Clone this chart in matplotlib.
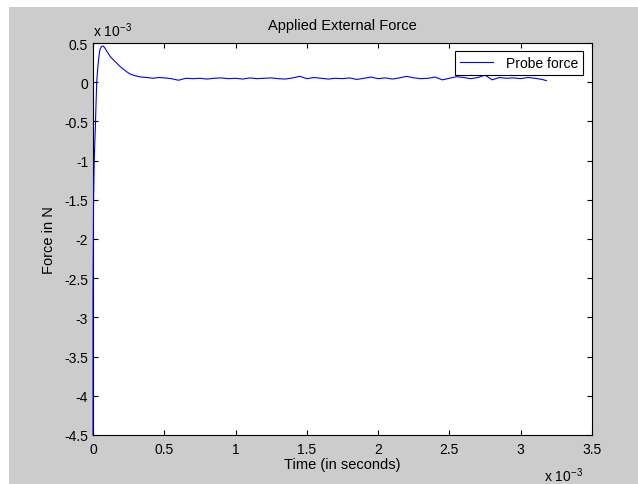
import matplotlib
matplotlib.use("Agg")
import matplotlib.pyplot as plt
from matplotlib.patches import Rectangle

plt.rcParams['font.family'] = ['Liberation Sans', 'DejaVu Sans']
plt.rcParams['font.size'] = 10
plt.rcParams['mathtext.fontset'] = 'custom'
plt.rcParams['mathtext.rm'] = 'Liberation Sans'
plt.rcParams['mathtext.default'] = 'regular'

# time in ms (axis scaled by 1e-3), force in mN (axis scaled by 1e-3)
t_start = [0.0, 0.0, 0.004, 0.008, 0.012, 0.016, 0.020, 0.026, 0.031, 0.037, 0.043,
           0.049, 0.058, 0.066, 0.072, 0.082, 0.095, 0.12, 0.14, 0.166, 0.19,
           0.21, 0.235, 0.26, 0.30, 0.34]
f_start = [-4.5, -2.7, -1.5, -1.05, -0.8, -0.6, -0.35, 0.0, 0.13, 0.25, 0.35,
           0.42, 0.45, 0.46, 0.46, 0.44, 0.40, 0.33, 0.29, 0.245, 0.2,
           0.17, 0.135, 0.105, 0.08, 0.065]

t_flat = [0.38, 0.42, 0.46, 0.50, 0.55, 0.60, 0.65, 0.70, 0.75, 0.80, 0.85,
          0.90, 0.95, 1.00, 1.05, 1.10, 1.15, 1.20, 1.25, 1.30, 1.35,
          1.40, 1.45, 1.50, 1.55, 1.60, 1.65, 1.70, 1.75, 1.80, 1.85,
          1.90, 1.95, 2.00, 2.05, 2.10, 2.15, 2.20, 2.25, 2.30, 2.35,
          2.40, 2.45, 2.50, 2.55, 2.60, 2.65, 2.70, 2.75, 2.80, 2.85,
          2.90, 2.95, 3.00, 3.05, 3.10, 3.15, 3.18]
f_flat = [0.06, 0.05, 0.06, 0.055, 0.045, 0.025, 0.05, 0.045, 0.05, 0.04, 0.05,
          0.055, 0.045, 0.05, 0.04, 0.055, 0.045, 0.05, 0.055, 0.045, 0.04,
          0.055, 0.075, 0.045, 0.06, 0.05, 0.04, 0.05, 0.045, 0.055, 0.035,
          0.05, 0.065, 0.045, 0.055, 0.04, 0.055, 0.075, 0.055, 0.045, 0.05,
          0.065, 0.03, 0.05, 0.07, 0.06, 0.045, 0.06, 0.09, 0.03, 0.06,
          0.05, 0.055, 0.045, 0.06, 0.05, 0.035, 0.02]

time = [v * 1e-3 for v in t_start + t_flat]
force = [v * 1e-3 for v in f_start + f_flat]

fig = plt.figure(figsize=(6.38, 4.85), dpi=100, facecolor='white')
fig.patches.append(Rectangle((9 / 638, 0), 1, 1 - 8 / 485, transform=fig.transFigure,
                             facecolor='#cccccc', edgecolor='none', zorder=-10))

ax = fig.add_axes([93 / 638, 49 / 485, 499 / 638, 392 / 485])
ax.plot(time, force, color='blue', lw=0.8, label='Probe force', zorder=3, clip_on=False)

ax.set_xlim(0, 3.5e-3)
ax.set_ylim(-4.5e-3, 0.5e-3)
ax.set_xticks([i * 0.5e-3 for i in range(8)])
ax.set_yticks([-4.5e-3 + i * 0.5e-3 for i in range(11)])
ax.set_xticklabels(['0', '0.5', '1', '1.5', '2', '2.5', '3', '3.5'])
ax.set_yticklabels(['-4.5', '-4', '-3.5', '-3', '-2.5', '-2', '-1.5', '-1', '-0.5', '0', '0.5'])
ax.tick_params(axis='both', direction='in', top=True, right=True, length=3.6, width=0.8)
ax.tick_params(axis='x', pad=5)
ax.tick_params(axis='y', pad=3.5)
for s in ax.spines.values():
    s.set_linewidth(0.8)

ax.set_title('Applied External Force', fontsize=10.5, pad=10)
ax.set_xlabel('Time (in seconds)', fontsize=10.5, labelpad=1)
ax.set_ylabel('Force in N', fontsize=10.5, labelpad=6)

fig.text(93 / 638, 1 - 37 / 485, r'x 10$^{-3}$', ha='left', va='baseline', fontsize=10)
fig.text(583 / 638, 1 - 482 / 485, r'x 10$^{-3}$', ha='right', va='baseline', fontsize=10)

leg = ax.legend(loc='upper right', bbox_to_anchor=(583 / 638, 1 - 52 / 485),
                bbox_transform=fig.transFigure, fancybox=False, framealpha=1,
                edgecolor='black', handlelength=2.4, borderpad=0.35, handletextpad=0.9,
                borderaxespad=0, fontsize=10)
leg.get_frame().set_linewidth(0.8)
leg.set_zorder(5)

fig.savefig('out.png', dpi=100, facecolor=fig.get_facecolor())
